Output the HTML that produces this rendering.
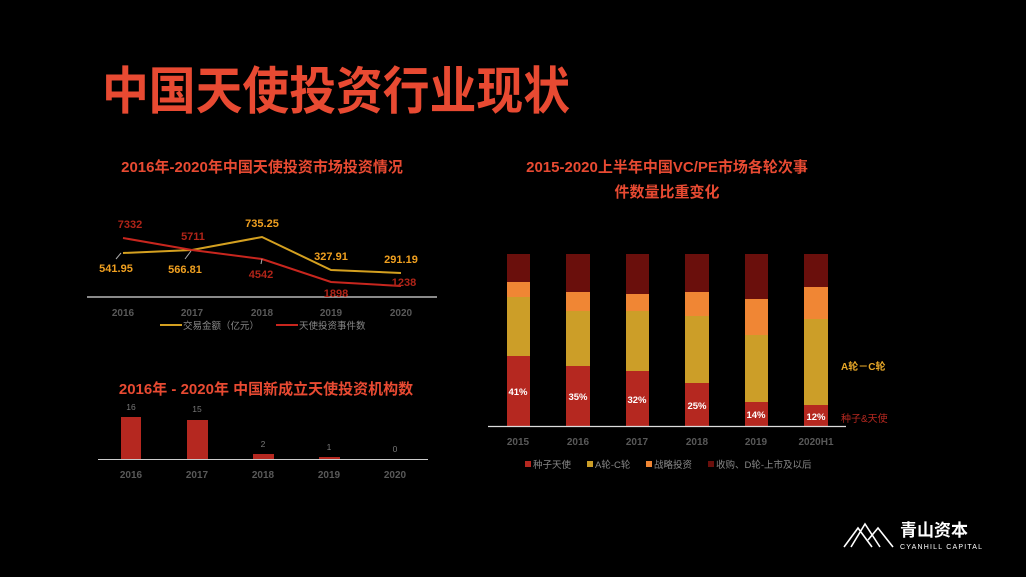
<!DOCTYPE html>
<html><head><meta charset="utf-8"><style>
html,body{margin:0;padding:0;background:#000;}
svg{display:block;}
text{font-family:"Liberation Sans","Noto Sans CJK SC",sans-serif;}
</style></head><body>
<svg width="1026" height="577" viewBox="0 0 1026 577" xmlns="http://www.w3.org/2000/svg">
<rect width="1026" height="577" fill="#000"/>
<text x="102" y="109" font-size="51" font-weight="bold" fill="#e84a32" textLength="468" lengthAdjust="spacingAndGlyphs">中国天使投资行业现状</text>

<!-- line chart -->
<text x="262" y="172" font-size="15" font-weight="bold" fill="#e84a32" text-anchor="middle">2016年-2020年中国天使投资市场投资情况</text>
<line x1="87" y1="297" x2="437" y2="297" stroke="#ddd" stroke-width="1.2"/>
<polyline points="123,253 192,250 262,237 331,270 401,273" fill="none" stroke="#d4a020" stroke-width="2"/>
<polyline points="123,238 192,250 262,259 331,282 401,286" fill="none" stroke="#c8261e" stroke-width="2"/>
<line x1="121" y1="253" x2="116" y2="259" stroke="#aaa"/>
<line x1="191" y1="251" x2="185" y2="259" stroke="#aaa"/>
<line x1="262" y1="259" x2="261" y2="264" stroke="#aaa"/>
<g font-size="11" font-weight="bold" text-anchor="middle">
<text x="130" y="228" fill="#b02418">7332</text>
<text x="193" y="240" fill="#b02418">5711</text>
<text x="261" y="278" fill="#b02418">4542</text>
<text x="336" y="297" fill="#b02418">1898</text>
<text x="404" y="286" fill="#b02418">1238</text>
<text x="116" y="272" fill="#f0a020">541.95</text>
<text x="185" y="273" fill="#f0a020">566.81</text>
<text x="262" y="227" fill="#f0a020">735.25</text>
<text x="331" y="260" fill="#f0a020">327.91</text>
<text x="401" y="263" fill="#f0a020">291.19</text>
</g>
<g font-size="10" font-weight="bold" fill="#595959" text-anchor="middle">
<text x="123" y="316">2016</text><text x="192" y="316">2017</text><text x="262" y="316">2018</text><text x="331" y="316">2019</text><text x="401" y="316">2020</text>
</g>
<line x1="160" y1="325" x2="182" y2="325" stroke="#d4a020" stroke-width="2"/>
<text x="183" y="329" font-size="9.5" fill="#888">交易金额（亿元）</text>
<line x1="276" y1="325" x2="298" y2="325" stroke="#c8261e" stroke-width="2"/>
<text x="299" y="329" font-size="9.5" fill="#888">天使投资事件数</text>

<!-- bottom bar -->
<text x="266" y="394" font-size="15" font-weight="bold" fill="#e84a32" text-anchor="middle">2016年 - 2020年 中国新成立天使投资机构数</text>
<rect x="121" y="417" width="20" height="42" fill="#b52820"/>
<rect x="187" y="420" width="21" height="39" fill="#b52820"/>
<rect x="253" y="454" width="21" height="5" fill="#b52820"/>
<rect x="319" y="457" width="21" height="2" fill="#b52820"/>
<line x1="98" y1="459.5" x2="428" y2="459.5" stroke="#ccc" stroke-width="1"/>
<g font-size="8.5" fill="#777" text-anchor="middle">
<text x="131" y="410">16</text><text x="197" y="412">15</text><text x="263" y="447">2</text><text x="329" y="450">1</text><text x="395" y="452">0</text>
</g>
<g font-size="10" font-weight="bold" fill="#595959" text-anchor="middle">
<text x="131" y="478">2016</text><text x="197" y="478">2017</text><text x="263" y="478">2018</text><text x="329" y="478">2019</text><text x="395" y="478">2020</text>
</g>

<!-- stacked -->
<text x="667" y="172" font-size="15" font-weight="bold" fill="#e84a32" text-anchor="middle">2015-2020上半年中国VC/PE市场各轮次事</text>
<text x="667" y="197" font-size="15" font-weight="bold" fill="#e84a32" text-anchor="middle">件数量比重变化</text>
<g>
<rect x="507" y="254" width="23" height="28" fill="#6a0f0c"/><rect x="507" y="282" width="23" height="15" fill="#f08634"/><rect x="507" y="297" width="23" height="59" fill="#cc9e28"/><rect x="507" y="356" width="23" height="70" fill="#b52820"/>
<rect x="566" y="254" width="24" height="38" fill="#6a0f0c"/><rect x="566" y="292" width="24" height="19" fill="#f08634"/><rect x="566" y="311" width="24" height="55" fill="#cc9e28"/><rect x="566" y="366" width="24" height="60" fill="#b52820"/>
<rect x="626" y="254" width="23" height="40" fill="#6a0f0c"/><rect x="626" y="294" width="23" height="17" fill="#f08634"/><rect x="626" y="311" width="23" height="60" fill="#cc9e28"/><rect x="626" y="371" width="23" height="55" fill="#b52820"/>
<rect x="685" y="254" width="24" height="38" fill="#6a0f0c"/><rect x="685" y="292" width="24" height="24" fill="#f08634"/><rect x="685" y="316" width="24" height="67" fill="#cc9e28"/><rect x="685" y="383" width="24" height="43" fill="#b52820"/>
<rect x="745" y="254" width="23" height="45" fill="#6a0f0c"/><rect x="745" y="299" width="23" height="36" fill="#f08634"/><rect x="745" y="335" width="23" height="67" fill="#cc9e28"/><rect x="745" y="402" width="23" height="24" fill="#b52820"/>
<rect x="804" y="254" width="24" height="33" fill="#6a0f0c"/><rect x="804" y="287" width="24" height="32" fill="#f08634"/><rect x="804" y="319" width="24" height="86" fill="#cc9e28"/><rect x="804" y="405" width="24" height="21" fill="#b52820"/>
</g>
<line x1="488" y1="426.5" x2="846" y2="426.5" stroke="#ddd" stroke-width="1.2"/>
<g font-size="9.5" font-weight="bold" fill="#fff" text-anchor="middle">
<text x="518" y="395">41%</text><text x="578" y="400">35%</text><text x="637" y="403">32%</text><text x="697" y="409">25%</text><text x="756" y="418">14%</text><text x="816" y="420">12%</text>
</g>
<g font-size="10" font-weight="bold" fill="#595959" text-anchor="middle">
<text x="518" y="445">2015</text><text x="578" y="445">2016</text><text x="637" y="445">2017</text><text x="697" y="445">2018</text><text x="756" y="445">2019</text><text x="816" y="445">2020H1</text>
</g>
<text x="841" y="370" font-size="10" font-weight="bold" fill="#e8a828">A轮－C轮</text>
<text x="841" y="422" font-size="10" fill="#b52820">种子&amp;天使</text>
<g font-size="9.5" fill="#888">
<rect x="525" y="461" width="6" height="6" fill="#b52820"/><text x="533" y="468">种子天使</text>
<rect x="587" y="461" width="6" height="6" fill="#cc9e28"/><text x="595" y="468">A轮-C轮</text>
<rect x="646" y="461" width="6" height="6" fill="#f08634"/><text x="654" y="468">战略投资</text>
<rect x="708" y="461" width="6" height="6" fill="#6a0f0c"/><text x="716" y="468">收购、D轮-上市及以后</text>
</g>

<!-- logo -->
<g stroke="#fff" stroke-width="1.6" fill="none">
<polyline points="844,547 858,528 872,547"/>
<polyline points="851,547 865,524 880,547"/>
<polyline points="868,540 878,528 893,547"/>
</g>
<text x="900" y="536" font-size="17" font-weight="bold" fill="#fff">青山资本</text>
<text x="900" y="549" font-size="7" fill="#fff" letter-spacing="1.2">CYANHILL CAPITAL</text>
</svg>
</body></html>
